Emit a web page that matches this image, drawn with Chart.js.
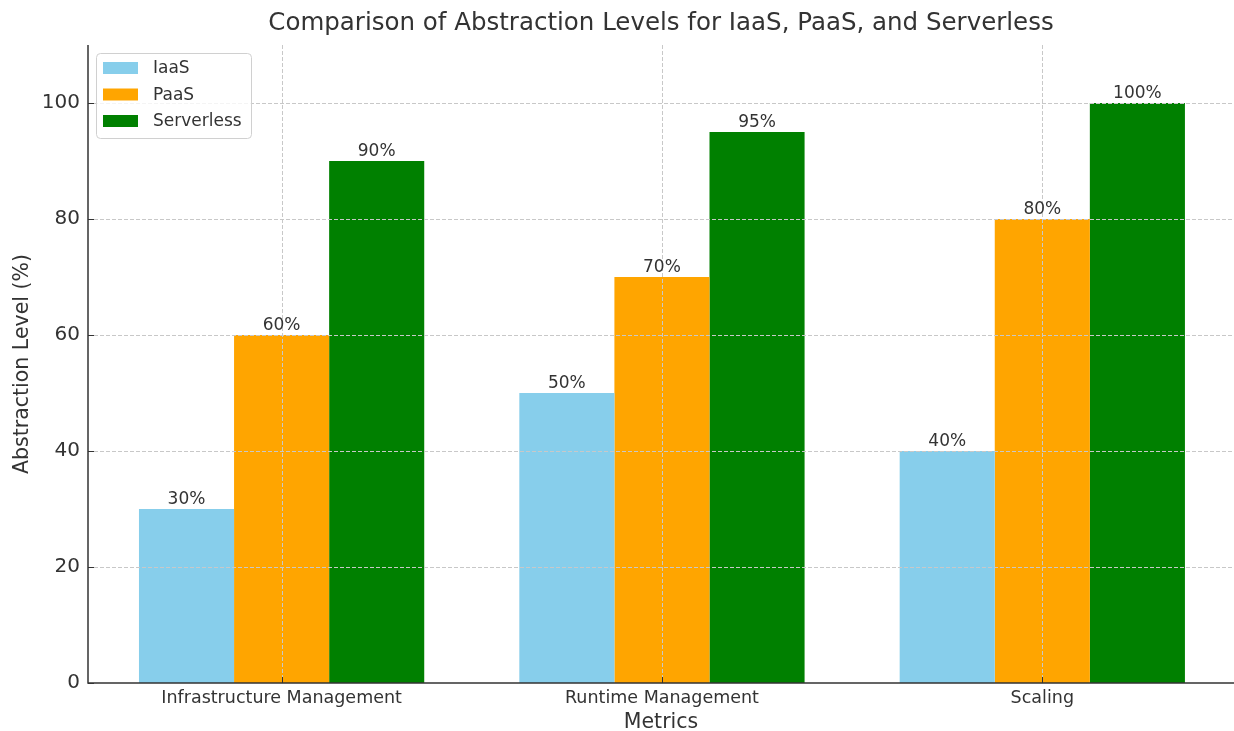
<!DOCTYPE html>
<html>
<head>
<meta charset="utf-8">
<script src="https://cdn.jsdelivr.net/npm/chart.js@4.4.1/dist/chart.umd.min.js"></script>
<style>
body{margin:0;background:#fff}
</style>
</head>
<body>
<canvas id="chart" width="1234" height="731"></canvas>
<script>

let metrics=["Infrastructure Management","Runtime Management","Scaling"]
let iaas=[30,50,40]
let paas=[60,70,80]
let serverless=[90,95,100]
let yTicks=[0,20,40,60,80,100]

let titleText="Comparison of Abstraction Levels for IaaS, PaaS, and Serverless"
let textColor="#333"
let gridColor="#c8c8c8"

Chart.defaults.font.family="DejaVu Sans"
Chart.defaults.color=textColor

function points(arr){
return arr.map((v,i)=>({x:i,y:v}))
}

// grid, spines, value labels, title and legend, drawn over the bars
let decor={
id:"decor",
afterDatasetsDraw(chart){

let ctx=chart.ctx
let a=chart.chartArea
let xs=chart.scales.x
let ys=chart.scales.y

ctx.save()

// dashed grid
ctx.strokeStyle=gridColor
ctx.lineWidth=1
ctx.setLineDash([4,2])
yTicks.forEach(v=>{
if(v===0) return
let y=Math.round(ys.getPixelForValue(v))+0.5
ctx.beginPath()
ctx.moveTo(a.left,y)
ctx.lineTo(a.right,y)
ctx.stroke()
})
metrics.forEach((m,i)=>{
let x=Math.round(xs.getPixelForValue(i))+0.5
ctx.beginPath()
ctx.moveTo(x,a.top)
ctx.lineTo(x,a.bottom)
ctx.stroke()
})
ctx.setLineDash([])

// value labels
ctx.fillStyle=textColor
ctx.font="17px 'DejaVu Sans'"
ctx.textAlign="center"
ctx.textBaseline="alphabetic"
chart.data.datasets.forEach((ds,di)=>{
chart.getDatasetMeta(di).data.forEach((bar,i)=>{
ctx.fillText(ds.data[i].y+"%",bar.x,bar.y-5)
})
})

// spines and inward ticks
ctx.strokeStyle="#333"
ctx.lineWidth=1.5
ctx.beginPath()
ctx.moveTo(a.left,a.top)
ctx.lineTo(a.left,a.bottom)
ctx.lineTo(a.right,a.bottom)
ctx.stroke()
ctx.lineWidth=1
yTicks.forEach(v=>{
let y=Math.round(ys.getPixelForValue(v))+0.5
ctx.beginPath()
ctx.moveTo(a.left,y)
ctx.lineTo(a.left+6,y)
ctx.stroke()
})
metrics.forEach((m,i)=>{
let x=Math.round(xs.getPixelForValue(i))+0.5
ctx.beginPath()
ctx.moveTo(x,a.bottom)
ctx.lineTo(x,a.bottom-6)
ctx.stroke()
})

// title
ctx.fillStyle=textColor
ctx.font="24.5px 'DejaVu Sans'"
ctx.textAlign="center"
ctx.textBaseline="middle"
ctx.fillText(titleText,(a.left+a.right)/2,24)

// legend
let lx=a.left+8
let ly=a.top+8
let lw=155
let lh=85
ctx.fillStyle="rgba(255,255,255,0.8)"
ctx.strokeStyle="#d0d0d0"
ctx.lineWidth=1
ctx.beginPath()
ctx.roundRect(lx+0.5,ly+0.5,lw,lh,4)
ctx.fill()
ctx.stroke()
ctx.font="17px 'DejaVu Sans'"
ctx.textAlign="left"
ctx.textBaseline="middle"
chart.data.datasets.forEach((ds,di)=>{
let cy=ly+15+di*26.5
ctx.fillStyle=ds.backgroundColor
ctx.fillRect(lx+7,cy-6,35,12)
ctx.fillStyle=textColor
ctx.fillText(ds.label,lx+57,cy+1)
})

ctx.restore()

}
}

let chart=new Chart(document.getElementById("chart"),{
type:"bar",
data:{
datasets:[
{label:"IaaS",data:points(iaas),backgroundColor:"#87CEEB"},
{label:"PaaS",data:points(paas),backgroundColor:"#FFA500"},
{label:"Serverless",data:points(serverless),backgroundColor:"#008000"}
]
},
options:{
responsive:false,
animation:false,
devicePixelRatio:1,
categoryPercentage:0.75,
barPercentage:1,
layout:{padding:{top:45,right:0,left:0,bottom:0}},
plugins:{
legend:{display:false},
tooltip:{enabled:false}
},
scales:{
x:{
type:"linear",
min:-0.509,
max:2.504,
offset:false,
grid:{display:false,drawTicks:false},
border:{display:false},
ticks:{font:{size:17.5},color:textColor,padding:5,maxRotation:0,callback:v=>metrics[v]},
afterBuildTicks(s){s.ticks=metrics.map((m,i)=>({value:i}))},
title:{display:true,text:"Metrics",font:{size:20.5,lineHeight:1},color:textColor,padding:{top:0,bottom:-2}},
afterFit(s){s.height=48}
},
y:{
min:0,
max:110,
grid:{display:false,drawTicks:false},
border:{display:false},
ticks:{font:{size:20},color:textColor,padding:8},
afterBuildTicks(s){s.ticks=yTicks.map(v=>({value:v}))},
title:{display:true,text:"Abstraction Level (%)",font:{size:20.5,lineHeight:1.2},color:textColor,padding:{top:10,bottom:0}},
afterFit(s){s.width=88}
}
}
},
plugins:[decor]
})

</script>
</body>
</html>
